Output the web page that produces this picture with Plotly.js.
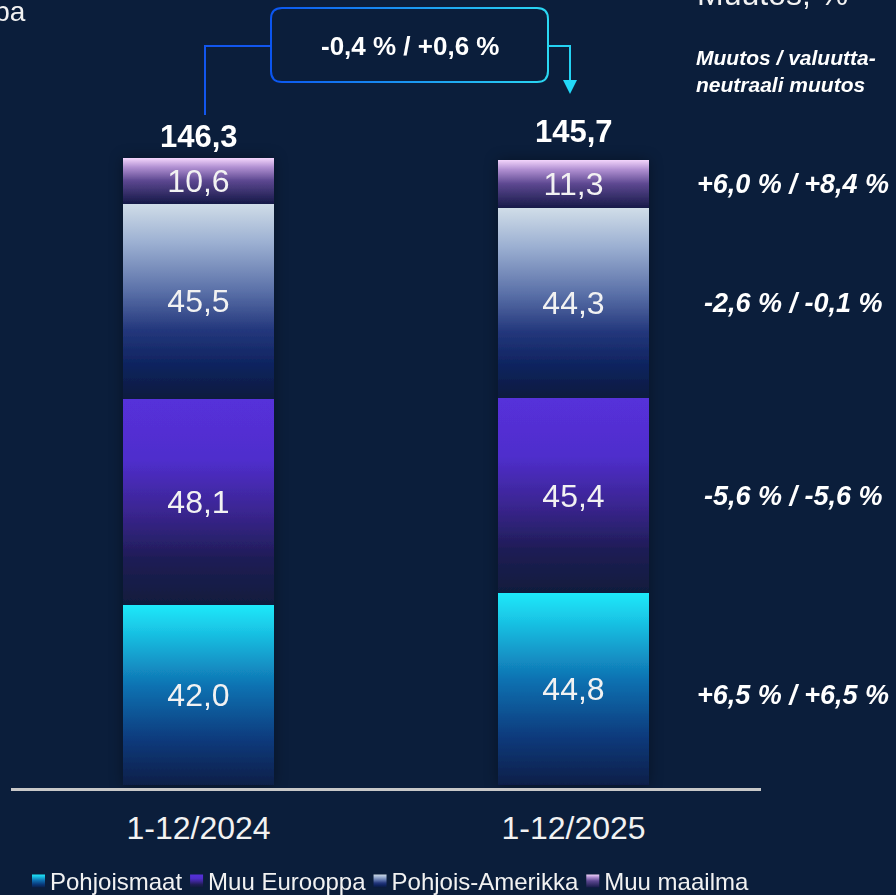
<!DOCTYPE html>
<html><head><meta charset="utf-8">
<script src="https://cdn.plot.ly/plotly-3.0.1.min.js"></script>
<style>html,body{margin:0;padding:0;background:#0b1e3b;}#chart{width:896px;height:895px;}</style>
</head><body><div id="chart"></div>
<script>
// ---- data ----
const periods = ['1-12/2024', '1-12/2025'];
const seriesNames = ['Pohjoismaat', 'Muu Eurooppa', 'Pohjois-Amerikka', 'Muu maailma'];
const pohjoismaat = [42.0, 44.8];
const muuEurooppa = [48.1, 45.4];
const pohjoisAmerikka = [45.5, 44.3];
const muuMaailma = [10.6, 11.3];
const totals = [146.3, 145.7];
const changePct = [6.5, -5.6, -2.6, 6.0];
const fxNeutralPct = [6.5, -5.6, -0.1, 8.4];
const totalChange = -0.4;
const totalFxNeutral = 0.6;
const headerText = 'Muutos / valuutta-<br>neutraali muutos';
const topRightText = 'Muutos, %';
const topLeftText = 'Eurooppa';

// ---- styles ----
const FONT = 'Liberation Sans, Arial, sans-serif';
const BG = '#0b1e3b';
const TXT = '#f2f2f2';
const solidColors = ['#1296c8', '#4a2cc0', '#5a70a8', '#8a6ab8'];
const gradStops = [
  [[0, '#1ee9fa'], [0.15, '#19c3e4'], [0.45, '#0f72b2'], [0.75, '#093a7c'], [1, '#0a1f48']],
  [[0, '#5630da'], [0.3, '#4f2ecc'], [0.55, '#3a2590'], [0.78, '#1e1d55'], [1, '#101a3c']],
  [[0, '#d0dde8'], [0.2, '#9cb0d2'], [0.45, '#5a70a8'], [0.65, '#23377c'], [0.82, '#0f2460'], [1, '#0a1a3e']],
  [[0, '#f4d6fc'], [0.2, '#b190d2'], [0.5, '#5c4790'], [1, '#161a48']]
];
const totalShift = [21, 29];
const changeShift = [-6, 0, 0, 0];

const seriesValues = [pohjoismaat, muuEurooppa, pohjoisAmerikka, muuMaailma];

const fmt1 = v => Math.abs(v).toFixed(1).replace('.', ',');
const signed = v => (v < 0 ? '-' : '+') + fmt1(v);
const pctPair = (a, b) => `${signed(a)} % / ${signed(b)} %`;

// pixel -> paper helpers (plot area: x 11..761, y 56..788)
const L = 11, R = 135, T = 56, B = 107, W = 896, H = 895;
const PW = W - L - R, PH = H - T - B;
const px = x => (x - L) / PW;
const py = y => (H - B - y) / PH;

const data = seriesValues.map((vals, i) => ({
  type: 'bar',
  name: seriesNames[i],
  x: periods,
  y: vals,
  width: 0.403,
  marker: {color: solidColors[i], line: {width: 0}},
  texttemplate: '%{y:.1f}',
  textposition: 'inside',
  insidetextanchor: 'middle',
  textangle: 0,
  textfont: {family: FONT, size: 32, color: TXT},
  hoverinfo: 'skip'
}));

const annotations = [];
periods.forEach((p, i) => annotations.push({
  x: p, y: totals[i], xref: 'x', yref: 'y', showarrow: false,
  text: fmt1(totals[i]), yanchor: 'middle', yshift: totalShift[i],
  font: {family: FONT, size: 31, color: '#ffffff', weight: 'bold'}
}));
let cum = 0;
seriesValues.forEach((vals, i) => {
  const mid = cum + vals[1] / 2;
  cum += vals[1];
  annotations.push({
    x: px(793), xref: 'paper', y: mid, yref: 'y', showarrow: false,
    xanchor: 'center', yanchor: 'middle', yshift: changeShift[i],
    text: pctPair(changePct[i], fxNeutralPct[i]),
    font: {family: FONT, size: 27, color: '#ffffff', weight: 'bold', style: 'italic'}
  });
});
annotations.push({
  x: px(694), y: py(71), xref: 'paper', yref: 'paper', showarrow: false,
  xanchor: 'left', yanchor: 'middle', align: 'left', text: headerText,
  font: {family: FONT, size: 21, color: '#ffffff', weight: 'bold', style: 'italic'}
});
annotations.push({
  x: px(772), y: py(-6), xref: 'paper', yref: 'paper', showarrow: false,
  xanchor: 'center', yanchor: 'middle', text: topRightText,
  font: {family: FONT, size: 32, color: TXT}
});
annotations.push({
  x: px(28), y: py(12), xref: 'paper', yref: 'paper', showarrow: false,
  xanchor: 'right', yanchor: 'middle', text: topLeftText,
  font: {family: FONT, size: 28, color: TXT}
});
annotations.push({
  x: px(409.5), y: py(46), xref: 'paper', yref: 'paper', showarrow: false,
  xanchor: 'center', yanchor: 'middle', text: pctPair(totalChange, totalFxNeutral),
  font: {family: FONT, size: 26, color: '#ffffff', weight: 'bold'}
});

const bx1 = 271, bx2 = 548, by1 = 8, by2 = 82, r = 11;
const P = (x, y) => `${px(x)},${py(y)}`;
const boxPath = `M${P(bx1 + r, by1)} L${P(bx2 - r, by1)} Q${P(bx2, by1)} ${P(bx2, by1 + r)} L${P(bx2, by2 - r)} Q${P(bx2, by2)} ${P(bx2 - r, by2)} L${P(bx1 + r, by2)} Q${P(bx1, by2)} ${P(bx1, by2 - r)} L${P(bx1, by1 + r)} Q${P(bx1, by1)} ${P(bx1 + r, by1)} Z`;

const shapes = [
  {type: 'path', xref: 'paper', yref: 'paper', path: boxPath, line: {color: '#1a8ef0', width: 2}, fillcolor: 'rgba(0,0,0,0)'},
  {type: 'path', xref: 'paper', yref: 'paper', path: `M${P(205, 115)} L${P(205, 46)} L${P(bx1, 46)}`, line: {color: '#1256ee', width: 2}},
  {type: 'path', xref: 'paper', yref: 'paper', path: `M${P(bx2, 46)} L${P(570, 46)} L${P(570, 81)}`, line: {color: '#24d2f2', width: 2}},
  {type: 'path', xref: 'paper', yref: 'paper', path: `M${P(563, 80)} L${P(577, 80)} L${P(570, 94)} Z`, line: {width: 0}, fillcolor: '#22d8f8'}
];

const layout = {
  width: W, height: H,
  margin: {l: L, r: R, t: T, b: B, pad: 0, autoexpand: false},
  paper_bgcolor: BG, plot_bgcolor: BG,
  barmode: 'stack',
  separators: ', ',
  showlegend: true,
  legend: {
    orientation: 'h', x: 0.0, xanchor: 'left', y: -0.125, yanchor: 'middle',
    bgcolor: 'rgba(0,0,0,0)', traceorder: 'normal',
    font: {family: FONT, size: 24, color: TXT}
  },
  xaxis: {
    type: 'category', range: [-0.5, 1.5], showline: true, linecolor: '#c8c8c8', linewidth: 2.5,
    ticks: '', showgrid: false, zeroline: false, ticklabelstandoff: 10,
    tickfont: {family: FONT, size: 32, color: TXT}
  },
  yaxis: {range: [-0.7, 170], visible: false, showgrid: false, zeroline: false},
  annotations: annotations,
  shapes: shapes
};

Plotly.newPlot('chart', data, layout, {staticPlot: true, displayModeBar: false}).then(gd => {
  const ns = 'http://www.w3.org/2000/svg';
  const svg = gd.querySelector('svg.main-svg');
  let defs = svg.querySelector('defs');
  if (!defs) { defs = document.createElementNS(ns, 'defs'); svg.insertBefore(defs, svg.firstChild); }
  function addGrad(id, stops, horizontal) {
    const g = document.createElementNS(ns, 'linearGradient');
    g.setAttribute('id', id);
    g.setAttribute('x1', '0'); g.setAttribute('y1', '0');
    g.setAttribute('x2', horizontal ? '1' : '0'); g.setAttribute('y2', horizontal ? '0' : '1');
    stops.forEach(([o, c]) => {
      const s = document.createElementNS(ns, 'stop');
      s.setAttribute('offset', o); s.setAttribute('stop-color', c);
      g.appendChild(s);
    });
    defs.appendChild(g);
  }
  gradStops.forEach((st, i) => addGrad('bargrad' + i, st, false));
  addGrad('boxgrad', [[0, '#0b55f0'], [1, '#2ad8f2']], true);
  const f = document.createElementNS(ns, 'filter');
  f.setAttribute('id', 'barshadow');
  f.setAttribute('x', '-20%'); f.setAttribute('y', '-20%'); f.setAttribute('width', '140%'); f.setAttribute('height', '140%');
  f.innerHTML = '<feGaussianBlur in="SourceAlpha" stdDeviation="7" result="b"/>' +
    '<feFlood flood-color="#000" flood-opacity="0.35" result="c"/>' +
    '<feComposite in="c" in2="b" operator="in" result="s"/>' +
    '<feComposite in="s" in2="SourceAlpha" operator="out" result="so"/>' +
    '<feMerge><feMergeNode in="so"/><feMergeNode in="SourceGraphic"/></feMerge>';
  defs.appendChild(f);

  gd.querySelectorAll('.barlayer .trace.bars').forEach((tr, i) => {
    tr.querySelectorAll('path').forEach(p => { p.style.fill = `url(#bargrad${i})`; });
  });
  const bl = gd.querySelector('.barlayer');
  if (bl) bl.setAttribute('filter', 'url(#barshadow)');

  gd.querySelectorAll('.shapelayer path').forEach(p => {
    if (p.getAttribute('data-index') === '0') p.style.stroke = 'url(#boxgrad)';
  });

  // legend compaction
  const items = gd.querySelectorAll('.legend .traces');
  let y0 = 0, xCur = 0;
  items.forEach((t, i) => {
    const m = /translate\(([-\d.]+)[ ,]*([-\d.]+)?/.exec(t.getAttribute('transform') || '');
    if (i === 0 && m) y0 = parseFloat(m[2] || 0);
    const txt = t.querySelector('text.legendtext');
    const pth = t.querySelector('.legendpoints path');
    if (pth) {
      pth.setAttribute('d', 'M-6.5,6.5H6.5V-6.5H-6.5Z');
      pth.setAttribute('transform', 'translate(6.5,0)');
      pth.style.fill = `url(#bargrad${i})`;
      pth.style.stroke = 'none';
    }
    txt.setAttribute('x', 18);
    const w = txt.getComputedTextLength();
    t.setAttribute('transform', `translate(${xCur},${y0})`);
    xCur += 18 + w + 8;
  });
  const lg = gd.querySelector('g.legend');
  if (lg) {
    lg.querySelectorAll('[clip-path]').forEach(el => el.removeAttribute('clip-path'));
    const first = items[0] && items[0].querySelector('.legendpoints path');
    if (first) {
      const rc = first.getBoundingClientRect();
      const dx = 32 - rc.left, dy = 881 - (rc.top + rc.height / 2);
      const m = /translate\(([-\d.]+)[ ,]*([-\d.]+)?/.exec(lg.getAttribute('transform') || '');
      const lx = m ? parseFloat(m[1]) : 0, ly = m ? parseFloat(m[2] || 0) : 0;
      lg.setAttribute('transform', `translate(${lx + dx},${ly + dy})`);
    }
  }
});
</script>
</body></html>
